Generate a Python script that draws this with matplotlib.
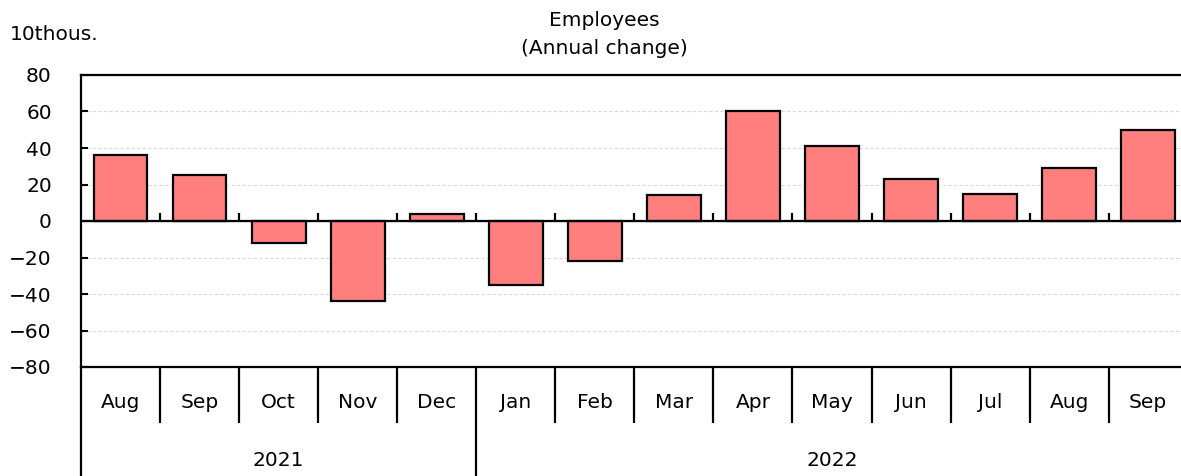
import matplotlib
matplotlib.use('Agg')
import matplotlib.pyplot as plt
import matplotlib.transforms as mtransforms

# data
months = ['Aug', 'Sep', 'Oct', 'Nov', 'Dec', 'Jan', 'Feb', 'Mar', 'Apr', 'May', 'Jun', 'Jul', 'Aug', 'Sep']
values = [36, 25, -12, -44, 4, -35, -22, 14, 60, 41, 23, 15, 29, 50]
years = ['2021', '2022']
year_spans = [(0, 4), (5, 13)]   # first / last month index of each year
yticks = [80, 60, 40, 20, 0, -20, -40, -60, -80]

plt.rcParams['font.family'] = ['DejaVu Sans']
FS = 14.5

fig = plt.figure(figsize=(11.81, 4.76), dpi=100)
ax = fig.add_axes([81 / 1181, 1 - 367 / 476, 1106.7 / 1181, 292 / 476])

x = list(range(len(months)))
ax.bar(x, values, width=0.68, color='#ff7f7f', edgecolor='black', linewidth=1.6, zorder=3)

ax.set_xlim(-0.5, len(months) - 0.5)
ax.set_ylim(-80, 80)
ax.set_yticks(yticks)
ax.set_yticklabels([str(v).replace('-', '\u2212') for v in yticks], fontsize=FS)
ax.yaxis.grid(True, linestyle=(0, (3, 2)), color='#d8d8d8', linewidth=0.8, zorder=0)
ax.tick_params(axis='y', direction='in', length=5, width=1.5, pad=21)

for s in ['left', 'top', 'bottom']:
    ax.spines[s].set_linewidth(1.6)
ax.spines['right'].set_visible(False)

# month separators below the axis (as long outward ticks)
bounds = [i + 0.5 for i in range(len(months) - 1)]
year_bounds = [year_spans[1][0] - 0.5]
ax.set_xticks([b for b in bounds if b not in year_bounds])
ax.set_xticklabels([])
ax.tick_params(axis='x', direction='out', length=40, width=1.6)

# zero line with small upward ticks
ax.axhline(0, color='black', linewidth=1.6, zorder=4)
zero = ax.secondary_xaxis(0.5)
zero.set_xticks(bounds)
zero.set_xticklabels([])
zero.tick_params(axis='x', direction='out', length=6, width=1.6)
zero.spines['bottom'].set_visible(False)

trans = mtransforms.blended_transform_factory(ax.transData, fig.transFigure)
y_axis_bottom = 1 - 367 / 476
for b in year_bounds + [-0.5]:
    ax.plot([b, b], [0, y_axis_bottom], transform=trans, color='black',
            linewidth=1.6, clip_on=False, solid_capstyle='butt')

for i, m in enumerate(months):
    ax.text(i, 1 - 403 / 476, m, transform=trans, ha='center', va='center', fontsize=FS)
for yr, (a, b) in zip(years, year_spans):
    ax.text((a + b) / 2, 1 - 460 / 476, yr, transform=trans, ha='center', va='center', fontsize=FS)

fig.text(604 / 1181, 1 - 20 / 476, 'Employees', ha='center', va='center', fontsize=FS)
fig.text(604 / 1181, 1 - 49 / 476, '(Annual change)', ha='center', va='center', fontsize=FS)
fig.text(10 / 1181, 1 - 35 / 476, '10thous.', ha='left', va='center', fontsize=FS)

fig.savefig('out.png', dpi=100)
